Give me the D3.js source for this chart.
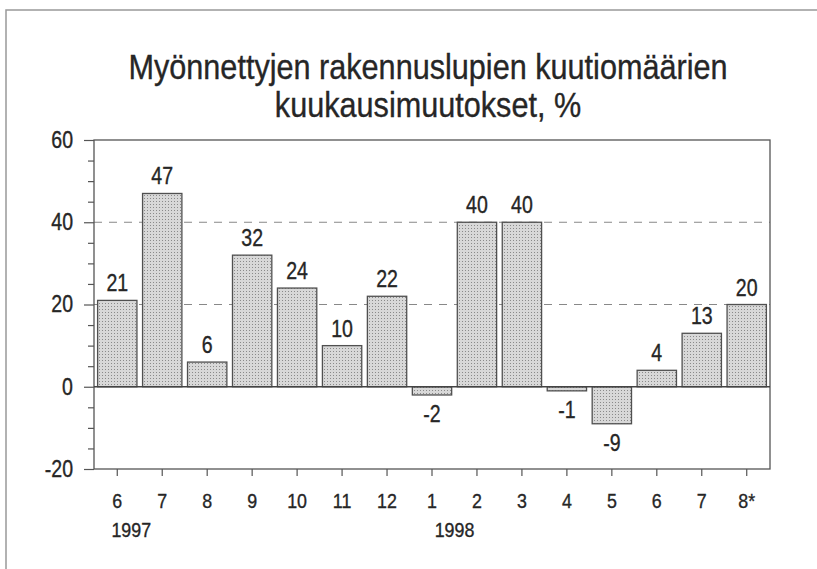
<!DOCTYPE html>
<html>
<head>
<meta charset="utf-8">
<script src="https://cdn.jsdelivr.net/npm/d3@7"></script>
<style>
  body { margin: 0; background: #fff; }
  svg text { font-family: "Liberation Sans", Arial, sans-serif; fill: #262626; stroke: #262626; stroke-width: 0.35px; }
</style>
</head>
<body>
<svg id="chart" width="817" height="569"></svg>
<script>
// data
var titleLines = ["Myönnettyjen rakennuslupien kuutiomäärien", "kuukausimuutokset, %"];
var monthKeys = ["1997-6","1997-7","1997-8","1997-9","1997-10","1997-11","1997-12",
                 "1998-1","1998-2","1998-3","1998-4","1998-5","1998-6","1998-7","1998-8"];
var monthLabels = ["6","7","8","9","10","11","12","1","2","3","4","5","6","7","8*"];
var values = [21, 47, 6, 32, 24, 10, 22, -2, 40, 40, -1, -9, 4, 13, 20];
var yTicks = [-20, 0, 20, 40, 60];
var gridValues = [20, 40];
var yearLabels = [{text: "1997", key: "1997-6"}, {text: "1998", key: "1998-1"}];

(function() {
  var svg = d3.select("#chart");
  var W = 817, H = 569;
  var pLeft = 94, pRight = 770, pTop = 140, pBottom = 469;
  var squeeze = 0.85; // no narrow font installed, so squeeze Liberation Sans

  // turn a text's x/y into a translate so it can be squeezed around its anchor
  function narrow(sel, s) {
    sel.each(function() {
      var t = d3.select(this);
      var tx = +t.attr("x") || 0, ty = +t.attr("y") || 0;
      t.attr("x", 0).attr("y", 0)
       .attr("transform", "translate(" + tx + "," + ty + ") scale(" + (s || squeeze) + ",1)");
    });
  }

  // outer frame (runs off the right/bottom of the photo)
  svg.append("rect")
    .attr("x", 6).attr("y", 10)
    .attr("width", W + 20).attr("height", H + 20)
    .attr("fill", "#fff")
    .attr("stroke", "#999").attr("stroke-width", 1.5);

  var pat = svg.append("defs").append("pattern")
    .attr("id", "stipple").attr("width", 3).attr("height", 3)
    .attr("patternUnits", "userSpaceOnUse");
  pat.append("rect").attr("width", 3).attr("height", 3).attr("fill", "#d8d8d8");
  pat.append("rect").attr("width", 1).attr("height", 1).attr("fill", "#8a8a8a");

  var x = d3.scaleBand()
    .domain(monthKeys)
    .range([pLeft, pRight])
    .paddingInner(0.125)
    .paddingOuter(0.08);

  var y = d3.scaleLinear().domain([-20, 60]).range([pBottom, pTop]);

  // title
  svg.selectAll(".title")
    .data(titleLines)
    .enter().append("text")
    .attr("class", "title")
    .attr("text-anchor", "middle")
    .style("font-size", "35px")
    .attr("x", 428)
    .attr("y", function(d, i) { return 79 + i * 38; })
    .text(function(d) { return d; })
    .call(narrow, 0.875);

  // dashed grid
  svg.selectAll(".grid")
    .data(gridValues)
    .enter().append("line")
    .attr("class", "grid")
    .attr("x1", pLeft).attr("x2", pRight)
    .attr("y1", function(d) { return y(d); })
    .attr("y2", function(d) { return y(d); })
    .attr("stroke", "#888").attr("stroke-width", 1)
    .attr("stroke-dasharray", "8,7");

  // bars
  svg.selectAll(".bar")
    .data(values)
    .enter().append("rect")
    .attr("class", "bar")
    .attr("x", function(d, i) { return x(monthKeys[i]); })
    .attr("width", x.bandwidth())
    .attr("y", function(d) { return y(Math.max(0, d)); })
    .attr("height", function(d) { return Math.abs(y(d) - y(0)); })
    .attr("fill", "url(#stipple)")
    .attr("stroke", "#505050").attr("stroke-width", 1.3);

  // value labels
  svg.selectAll(".val")
    .data(values)
    .enter().append("text")
    .attr("class", "val")
    .attr("text-anchor", "middle")
    .style("font-size", "23px")
    .attr("x", function(d, i) { return x(monthKeys[i]) + x.bandwidth() / 2; })
    .attr("y", function(d) { return d >= 0 ? y(d) - 9 : y(d) + 27; })
    .text(function(d) { return d; })
    .call(narrow);

  // frame of the plot
  svg.append("rect")
    .attr("x", pLeft).attr("y", pTop)
    .attr("width", pRight - pLeft).attr("height", pBottom - pTop)
    .attr("fill", "none").attr("stroke", "#555").attr("stroke-width", 1.3);

  // zero line
  svg.append("line")
    .attr("x1", pLeft).attr("x2", pRight)
    .attr("y1", y(0)).attr("y2", y(0))
    .attr("stroke", "#444").attr("stroke-width", 1.3);

  // y axis: major + minor ticks
  var yAxis = svg.append("g")
    .attr("transform", "translate(" + pLeft + ",0)")
    .call(d3.axisLeft(y).tickValues(yTicks).tickSize(10).tickPadding(11)
      .tickFormat(function(d) { return String(d); }));
  var yMinor = svg.append("g")
    .attr("transform", "translate(" + pLeft + ",0)")
    .call(d3.axisLeft(y)
      .tickValues(d3.range(-20, 61, 5).filter(function(v) { return v % 20 !== 0; }))
      .tickSize(6).tickFormat(""));

  // x axis
  var xAxis = svg.append("g")
    .attr("transform", "translate(0," + pBottom + ")")
    .call(d3.axisBottom(x)
      .tickSizeInner(7).tickSizeOuter(0).tickPadding(17)
      .tickFormat(function(d, i) { return monthLabels[i]; }));

  [yAxis, yMinor, xAxis].forEach(function(g) {
    g.select(".domain").remove();
    g.selectAll("line").attr("stroke", "#555").attr("stroke-width", 1.2);
    g.selectAll("text")
      .attr("fill", "#262626")
      .style("font-size", "23px")
      .style("font-family", "\"Liberation Sans\", Arial, sans-serif")
      .call(narrow);
  });
  xAxis.selectAll("text").style("font-size", "21px");

  // year labels
  svg.selectAll(".year")
    .data(yearLabels)
    .enter().append("text")
    .attr("class", "year")
    .attr("text-anchor", "middle")
    .style("font-size", "21px")
    .attr("x", function(d, i) {
      var c = x(d.key) + x.bandwidth() / 2;
      return i === 0 ? c + 14 : c + x.step() / 2;
    })
    .attr("y", 537)
    .text(function(d) { return d.text; })
    .call(narrow);
})();
</script>
</body>
</html>
